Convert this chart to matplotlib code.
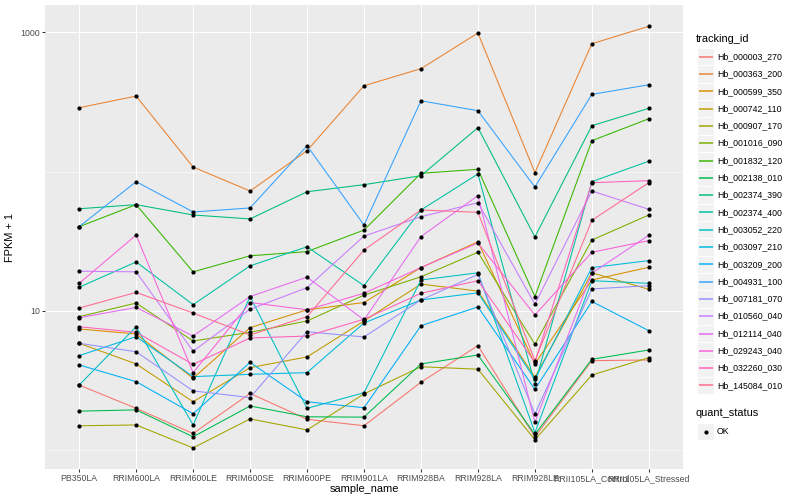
import matplotlib
matplotlib.use("Agg")
import matplotlib.pyplot as plt
from matplotlib.patches import Rectangle
from matplotlib.lines import Line2D
import numpy as np

plt.rcParams['font.family'] = ['Liberation Sans', 'DejaVu Sans']

samples = ["PB350LA", "RRIM600LA", "RRIM600LE", "RRIM600SE", "RRIM600PE",
           "RRIM901LA", "RRIM928BA", "RRIM928LA", "RRIM928LE",
           "RRII105LA_Control", "RRII105LA_Stressed"]

tracking_ids = ["Hb_000003_270", "Hb_000363_200", "Hb_000599_350", "Hb_000742_110",
                "Hb_000907_170", "Hb_001016_090", "Hb_001832_120", "Hb_002138_010",
                "Hb_002374_390", "Hb_002374_400", "Hb_003052_220", "Hb_003097_210",
                "Hb_003209_200", "Hb_004931_100", "Hb_007181_070", "Hb_010560_040",
                "Hb_012114_040", "Hb_029243_040", "Hb_032260_030", "Hb_145084_010"]

colors = ["#F8766D", "#EA8331", "#D89000", "#C09B00", "#A3A500", "#7CAE00",
          "#39B600", "#00BB4E", "#00BF7D", "#00C1A3", "#00BFC4", "#00BAE0",
          "#00B0F6", "#35A2FF", "#9590FF", "#C77CFF", "#E76BF3", "#FA62DB",
          "#FF62BC", "#FF6C91"]

# FPKM + 1 per sample (order of `samples`)
Hb_000003_270 = [2.94, 2.00, 1.32, 2.56, 1.67, 1.50, 3.08, 5.64, 1.25, 4.40, 4.45]
Hb_000363_200 = [288, 349, 108, 72.7, 141.6, 414, 549, 990, 98.4, 830, 1106]
Hb_000599_350 = [7.43, 6.84, 3.29, 7.59, 10.2, 11.5, 20.5, 31.4, 4.17, 16.7, 20.6]
Hb_000742_110 = [5.86, 4.17, 2.23, 3.92, 4.68, 8.48, 15.6, 13.9, 3.34, 18.8, 14.3]
Hb_000907_170 = [1.50, 1.52, 1.04, 1.68, 1.40, 2.54, 3.98, 3.82, 1.19, 3.47, 4.62]
Hb_001016_090 = [9.10, 11.4, 6.09, 7.03, 8.48, 13.0, 17.6, 26.4, 5.77, 32.3, 48.9]
Hb_001832_120 = [40.3, 58.0, 19.1, 24.9, 26.7, 38.1, 97.4, 104, 12.7, 167, 240]
Hb_002138_010 = [1.91, 1.95, 1.25, 2.08, 1.74, 1.73, 4.17, 4.83, 1.30, 4.50, 5.25]
Hb_002374_390 = [54.2, 58.0, 48.9, 45.8, 71.8, 80.7, 93.6, 207, 34.0, 214, 285]
Hb_002374_400 = [14.8, 22.5, 11.1, 21.1, 28.9, 15.2, 53.1, 96.3, 2.99, 84.8, 119]
Hb_003052_220 = [2.94, 7.71, 1.52, 12.7, 2.00, 2.59, 16.7, 18.8, 1.34, 16.5, 15.8]
Hb_003097_210 = [4.78, 6.54, 3.38, 3.51, 3.61, 8.20, 12.0, 13.5, 3.23, 20.5, 23.0]
Hb_003209_200 = [4.10, 3.11, 1.83, 4.28, 2.23, 2.02, 7.84, 10.7, 2.74, 11.7, 7.22]
Hb_004931_100 = [40.3, 84.8, 51.4, 54.9, 153.7, 41.4, 323, 274, 77.6, 359, 421]
Hb_007181_070 = [5.86, 5.10, 2.67, 2.39, 7.10, 6.51, 12.0, 18.3, 1.82, 14.4, 15.2]
Hb_010560_040 = [19.3, 19.1, 5.14, 10.3, 14.7, 34.5, 47.5, 59.9, 11.2, 72.7, 53.7]
Hb_012114_040 = [8.95, 10.6, 6.61, 12.7, 17.5, 8.62, 34.2, 67.3, 1.59, 18.7, 35.0]
Hb_029243_040 = [15.8, 35.1, 3.61, 11.5, 10.2, 13.4, 20.5, 30.8, 9.36, 26.4, 32.0]
Hb_032260_030 = [7.71, 7.03, 4.14, 6.40, 6.61, 8.72, 13.4, 16.5, 4.28, 83.4, 86.2]
Hb_145084_010 = [10.5, 13.6, 9.67, 6.73, 9.10, 27.4, 53.1, 51.1, 4.40, 44.8, 83.4]

series = [Hb_000003_270, Hb_000363_200, Hb_000599_350, Hb_000742_110, Hb_000907_170,
          Hb_001016_090, Hb_001832_120, Hb_002138_010, Hb_002374_390, Hb_002374_400,
          Hb_003052_220, Hb_003097_210, Hb_003209_200, Hb_004931_100, Hb_007181_070,
          Hb_010560_040, Hb_012114_040, Hb_029243_040, Hb_032260_030, Hb_145084_010]

W, H = 800, 500
fig = plt.figure(figsize=(W / 100, H / 100), dpi=100)
fig.patch.set_facecolor('white')

px = 0.72  # points per pixel
L, R, T, B = 45, 683, 5, 469
ax = fig.add_axes([L / W, 1 - B / H, (R - L) / W, (B - T) / H])
ax.set_facecolor('#EBEBEB')
for s in ax.spines.values():
    s.set_visible(False)

xs = np.arange(1, len(samples) + 1)
for vals, col in zip(series, colors):
    ax.plot(xs, vals, color=col, lw=1.07 * px, zorder=3, solid_capstyle='butt')
for vals in series:
    ax.plot(xs, vals, linestyle='none', marker='o', ms=4.2 * px, mfc='black',
            mec='black', mew=0, zorder=4)

ax.set_yscale('log')
ax.set_ylim(0.734, 1573)
ax.set_xlim(0.4, len(samples) + 0.6)
ax.set_yticks([10, 1000])
ax.set_yticklabels(['10', '1000'])
ax.set_yticks([1, 100], minor=True)
ax.yaxis.set_minor_formatter(matplotlib.ticker.NullFormatter())
ax.set_xticks(xs)
ax.set_xticklabels(samples)

ax.grid(which='major', color='white', lw=1.07 * px, zorder=1)
ax.grid(which='minor', axis='y', color='white', lw=0.55 * px, zorder=1)
ax.set_axisbelow(True)

ax.tick_params(axis='both', which='major', length=2.75 * px, width=1.07 * px,
               color='#333333', labelsize=8.8 * px, labelcolor='#4D4D4D',
               pad=2.2 * px)
ax.tick_params(axis='y', which='minor', length=0)

ax.set_xlabel('sample_name', fontsize=11 * px, labelpad=1.0)
ax.set_ylabel('FPKM + 1', fontsize=11 * px, labelpad=4)

# Legend (ggplot style)
def fx(x):
    return x / W

def fy(y):
    return 1 - y / H

fig.text(fx(696), fy(39), 'tracking_id', fontsize=11 * px, ha='left', va='center')
key_w, key_h, step, y0 = 17.3, 17.3, 17.3, 56.7
for i, (name, col) in enumerate(zip(tracking_ids, colors)):
    cy = y0 + i * step
    fig.add_artist(Rectangle((fx(697), fy(cy + key_h / 2)), key_w / W, key_h / H,
                             transform=fig.transFigure, facecolor='#F2F2F2',
                             edgecolor='white', lw=0.7, zorder=1))
    fig.add_artist(Line2D([fx(699), fx(712.5)], [fy(cy), fy(cy)],
                          transform=fig.transFigure, color=col, lw=1.5 * px,
                          zorder=5, solid_capstyle='butt'))
    fig.text(fx(717), fy(cy), name, fontsize=8.8 * px, ha='left', va='center')

fig.text(fx(696), fy(413), 'quant_status', fontsize=11 * px, ha='left', va='center')
cy = 431.5
fig.add_artist(Rectangle((fx(697), fy(cy + key_h / 2)), key_w / W, key_h / H,
                         transform=fig.transFigure, facecolor='#F2F2F2',
                         edgecolor='white', lw=0.7, zorder=1))
fig.add_artist(Line2D([fx(705.6)], [fy(cy)], transform=fig.transFigure,
                      marker='o', ms=4.2 * px, mfc='black', mec='black', mew=0,
                      zorder=5))
fig.text(fx(717), fy(cy), 'OK', fontsize=8.8 * px, ha='left', va='center')

fig.savefig('out.png', dpi=100, facecolor='white')
